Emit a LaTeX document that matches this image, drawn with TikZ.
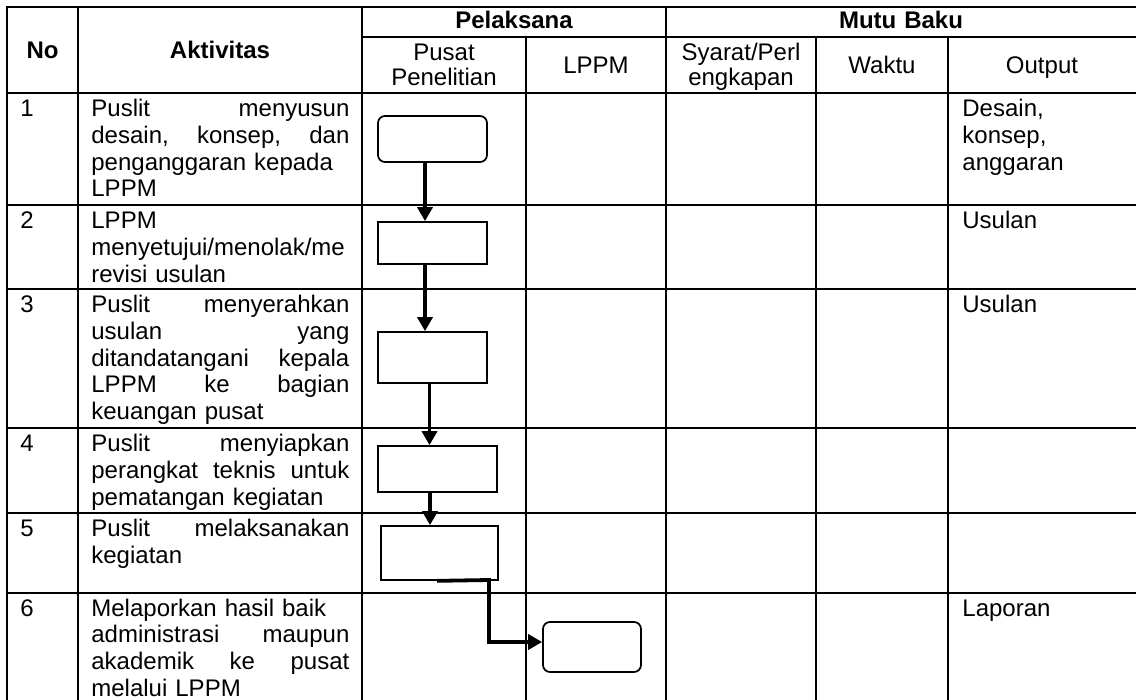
\documentclass[tikz,border=0pt]{standalone}
\usepackage{fontspec}
\setmainfont{Liberation Sans}
\usetikzlibrary{arrows.meta}
\tikzset{
    grid/.style={line width=1pt, line cap=rect},
    cell/.style={
        anchor=base west,
        inner sep=0pt,
        align=left,
        font=\fontsize{12}{13.4}\selectfont
    },
    akt/.style={cell, text width=129pt},
    head/.style={
        anchor=base,
        inner sep=0pt,
        align=center,
        text width=150pt,
        font=\fontsize{12}{12.5}\selectfont
    },
    headbf/.style={head, font=\fontsize{12}{12.5}\selectfont\bfseries},
    proc/.style={rectangle, draw, line width=0.85pt, inner sep=0pt},
    term/.style={proc, rounded corners=3.5pt},
    flow/.style={line width=1.9pt, -{Triangle[length=7pt,width=7.5pt]}}
}
\newcommand{\justline}[1]{\leavevmode\hbox to 129pt{\spaceskip=0pt\xspaceskip=0pt #1}}

\begin{document}
\begin{tikzpicture}[x=0.5pt, y=-0.5pt]
\useasboundingbox (0,0) rectangle (1136,700);
\clip (0,0) rectangle (1136,700);

% Table rules
\foreach \y in {7,93,205,289,428,513,593}
    \draw[grid] (7,\y) -- (1140,\y);
\draw[grid] (362,37) -- (1140,37);
\foreach \x in {7,78,362,666}
    \draw[grid] (\x,7) -- (\x,704);
\foreach \x in {526,816,948}
    \draw[grid] (\x,37) -- (\x,704);

% Header
\node[headbf] (hno) at (42.5,59) {No};
\node[headbf] (hakt) at (220,59) {Aktivitas};
\node[headbf] (hpel) at (514,28.6) {Pelaksana};
\node[headbf] (hmutu) at (901,28.6) {Mutu Baku};
\node[head] (hpus) at (444,60.6) {Pusat\\Penelitian};
\node[head] (hlppm) at (596,74) {LPPM};
\node[head] (hsyarat) at (741,60.6) {Syarat/Perl\\engkapan};
\node[head] (hwaktu) at (882,74) {Waktu};
\node[head] (hout) at (1042,74) {Output};

% Row 1
\node[cell, text width=20pt] (n1) at (20,116.5) {1};
\node[akt] (a1) at (91,116.5) {\justline{Puslit menyusun}\\\justline{desain, konsep, dan}\\penganggaran kepada\\LPPM};
\node[cell, text width=80pt] (o1) at (962,116.5) {Desain,\\konsep,\\anggaran};

% Row 2
\node[cell, text width=20pt] (n2) at (20,228.5) {2};
\node[akt] (a2) at (91,228.5) {LPPM\\menyetujui/menolak/me\\revisi usulan};
\node[cell, text width=80pt] (o2) at (962,228.5) {Usulan};

% Row 3
\node[cell, text width=20pt] (n3) at (20,312.5) {3};
\node[akt] (a3) at (91,312.5) {\justline{Puslit menyerahkan}\\\justline{usulan yang}\\\justline{ditandatangani kepala}\\\justline{LPPM ke bagian}\\keuangan pusat};
\node[cell, text width=80pt] (o3) at (962,312.5) {Usulan};

% Row 4
\node[cell, text width=20pt] (n4) at (20,451.5) {4};
\node[akt] (a4) at (91,451.5) {\justline{Puslit menyiapkan}\\\justline{perangkat teknis untuk}\\pematangan kegiatan};

% Row 5
\node[cell, text width=20pt] (n5) at (20,536.5) {5};
\node[akt] (a5) at (91,536.5) {\justline{Puslit melaksanakan}\\kegiatan};

% Row 6
\node[cell, text width=20pt] (n6) at (20,616) {6};
\node[akt] (a6) at (91,616) {Melaporkan hasil baik\\\justline{administrasi maupun}\\\justline{akademik ke pusat}\\melalui LPPM};
\node[cell, text width=80pt] (o6) at (962,616) {Laporan};

% Flow boxes
\node[term, minimum width=54.5pt, minimum height=23pt] (b1) at (432.5,139) {};
\node[proc, minimum width=54.5pt, minimum height=21pt] (b2) at (432.5,243) {};
\node[proc, minimum width=54.5pt, minimum height=25.5pt] (b3) at (432.5,357.5) {};
\node[proc, minimum width=59.5pt, minimum height=23pt] (b4) at (437.5,469) {};
\node[proc, minimum width=58.5pt, minimum height=27pt] (b5) at (439.5,553) {};
\node[term, minimum width=49pt, minimum height=25pt] (b6) at (592,647) {};

% Flow arrows
\draw[flow] ([xshift=-3.75pt]b1.south) -- ([xshift=-3.75pt]b2.north);
\draw[flow] ([xshift=-3.75pt]b2.south) -- ([xshift=-3.75pt]b3.north);
\draw[flow] ([xshift=-1.5pt]b3.south) -- ([xshift=-4pt]b4.north);
\draw[flow] ([xshift=-3.75pt]b4.south) -- ([xshift=-4.75pt]b5.north);
\coordinate (k56) at (489,580);
\draw[flow] ([xshift=-1.25pt]b5.south) -- (k56) |- ([yshift=2.5pt]b6.west);

\end{tikzpicture}
\end{document}
